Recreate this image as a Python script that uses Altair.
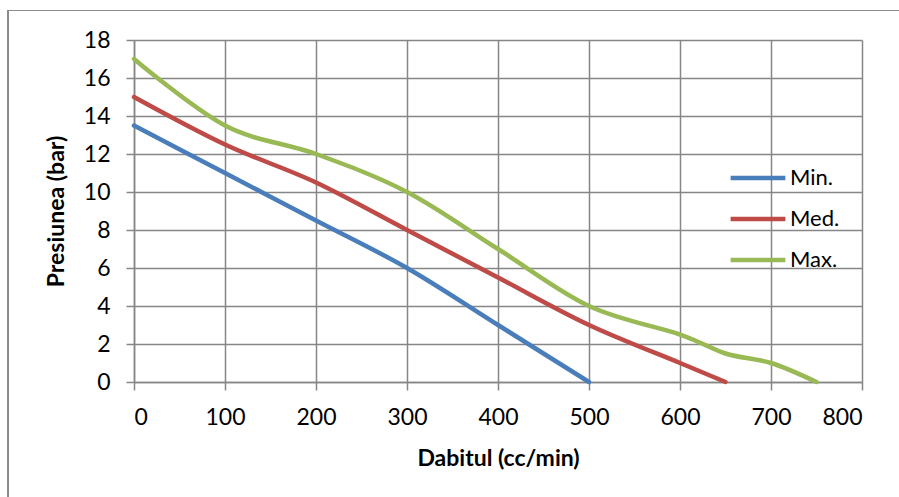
import altair as alt
import pandas as pd

x_min = [0, 100, 200, 300, 400, 500]
y_min = [13.5, 11, 8.5, 6, 3, 0]
x_med = [0, 100, 200, 300, 400, 500, 600, 650]
y_med = [15, 12.5, 10.5, 8, 5.5, 3, 1, 0]
x_max = [0, 100, 200, 300, 400, 500, 600, 650, 700, 750]
y_max = [17, 13.5, 12, 10, 7, 4, 2.5, 1.5, 1, 0]
series = ["Min.", "Med.", "Max."]
colors = ["#4A7EBB", "#BE4B48", "#98B954"]
x_ticks = list(range(0, 801, 100))
y_ticks = list(range(0, 19, 2))

rows = []
for name, xs, ys in zip(series, [x_min, x_med, x_max], [y_min, y_med, y_max]):
    for i, (a, b) in enumerate(zip(xs, ys)):
        rows.append({"serie": name, "x": a, "y": b, "order": i})
df = pd.DataFrame(rows)

FONT = "Lato"
W, H = 728, 342
PL, PT = 134, 40

lines = alt.Chart(df).mark_line(
    strokeWidth=4.5, interpolate="cardinal", strokeCap="round", strokeJoin="round", clip=False
).encode(
    x=alt.X("x:Q", scale=alt.Scale(domain=[0, 800], nice=False),
            axis=alt.Axis(values=x_ticks, title="Dabitul (cc/min)", format="d")),
    y=alt.Y("y:Q", scale=alt.Scale(domain=[0, 18], nice=False),
            axis=alt.Axis(values=y_ticks, title="Presiunea (bar)", format="d")),
    color=alt.Color("serie:N", scale=alt.Scale(domain=series, range=colors),
                    sort=series,
                    legend=alt.Legend(title=None, orient="none", legendX=728 - PL, legendY=148 - PT,
                                      symbolType="stroke", symbolSize=3000, symbolStrokeWidth=4.5,
                                      labelFont=FONT, labelFontSize=22, labelColor="#000000",
                                      rowPadding=-12, labelOffset=2)),
    order="order:Q",
)

border = alt.Chart(df).mark_rule(color="#8C8C8C", strokeWidth=1.2, clip=False).encode(
    x=alt.value(8 - PL), x2=alt.value(899 - PL + 20), y=alt.value(10.5 - PT)
)
border2 = alt.Chart(df).mark_rule(color="#8C8C8C", strokeWidth=1.2, clip=False).encode(
    x=alt.value(8 - PL), y=alt.value(10.5 - PT), y2=alt.value(497 - PT + 20)
)

chart = alt.layer(border, border2, lines).properties(
    width=W, height=H,
    autosize=alt.AutoSizeParams(type="none"),
    padding={"left": PL, "top": PT, "right": 899 - PL - W, "bottom": 497 - PT - H},
).configure_view(stroke=None).configure_axis(
    grid=True, gridColor="#868686", gridWidth=1.5,
    domainColor="#868686", domainWidth=1.5,
    tickColor="#868686", tickWidth=1.5, tickSize=8,
    labelFont=FONT, labelFontSize=23, labelColor="#000000",
    titleFont=FONT, titleFontSize=23, titleFontWeight="bold", titleColor="#000000",
).configure_axisX(labelPadding=16, titlePadding=18).configure_axisY(
    labelPadding=16, titlePadding=15
)

chart.save("out.html", embed_options={"renderer": "svg", "actions": False})
